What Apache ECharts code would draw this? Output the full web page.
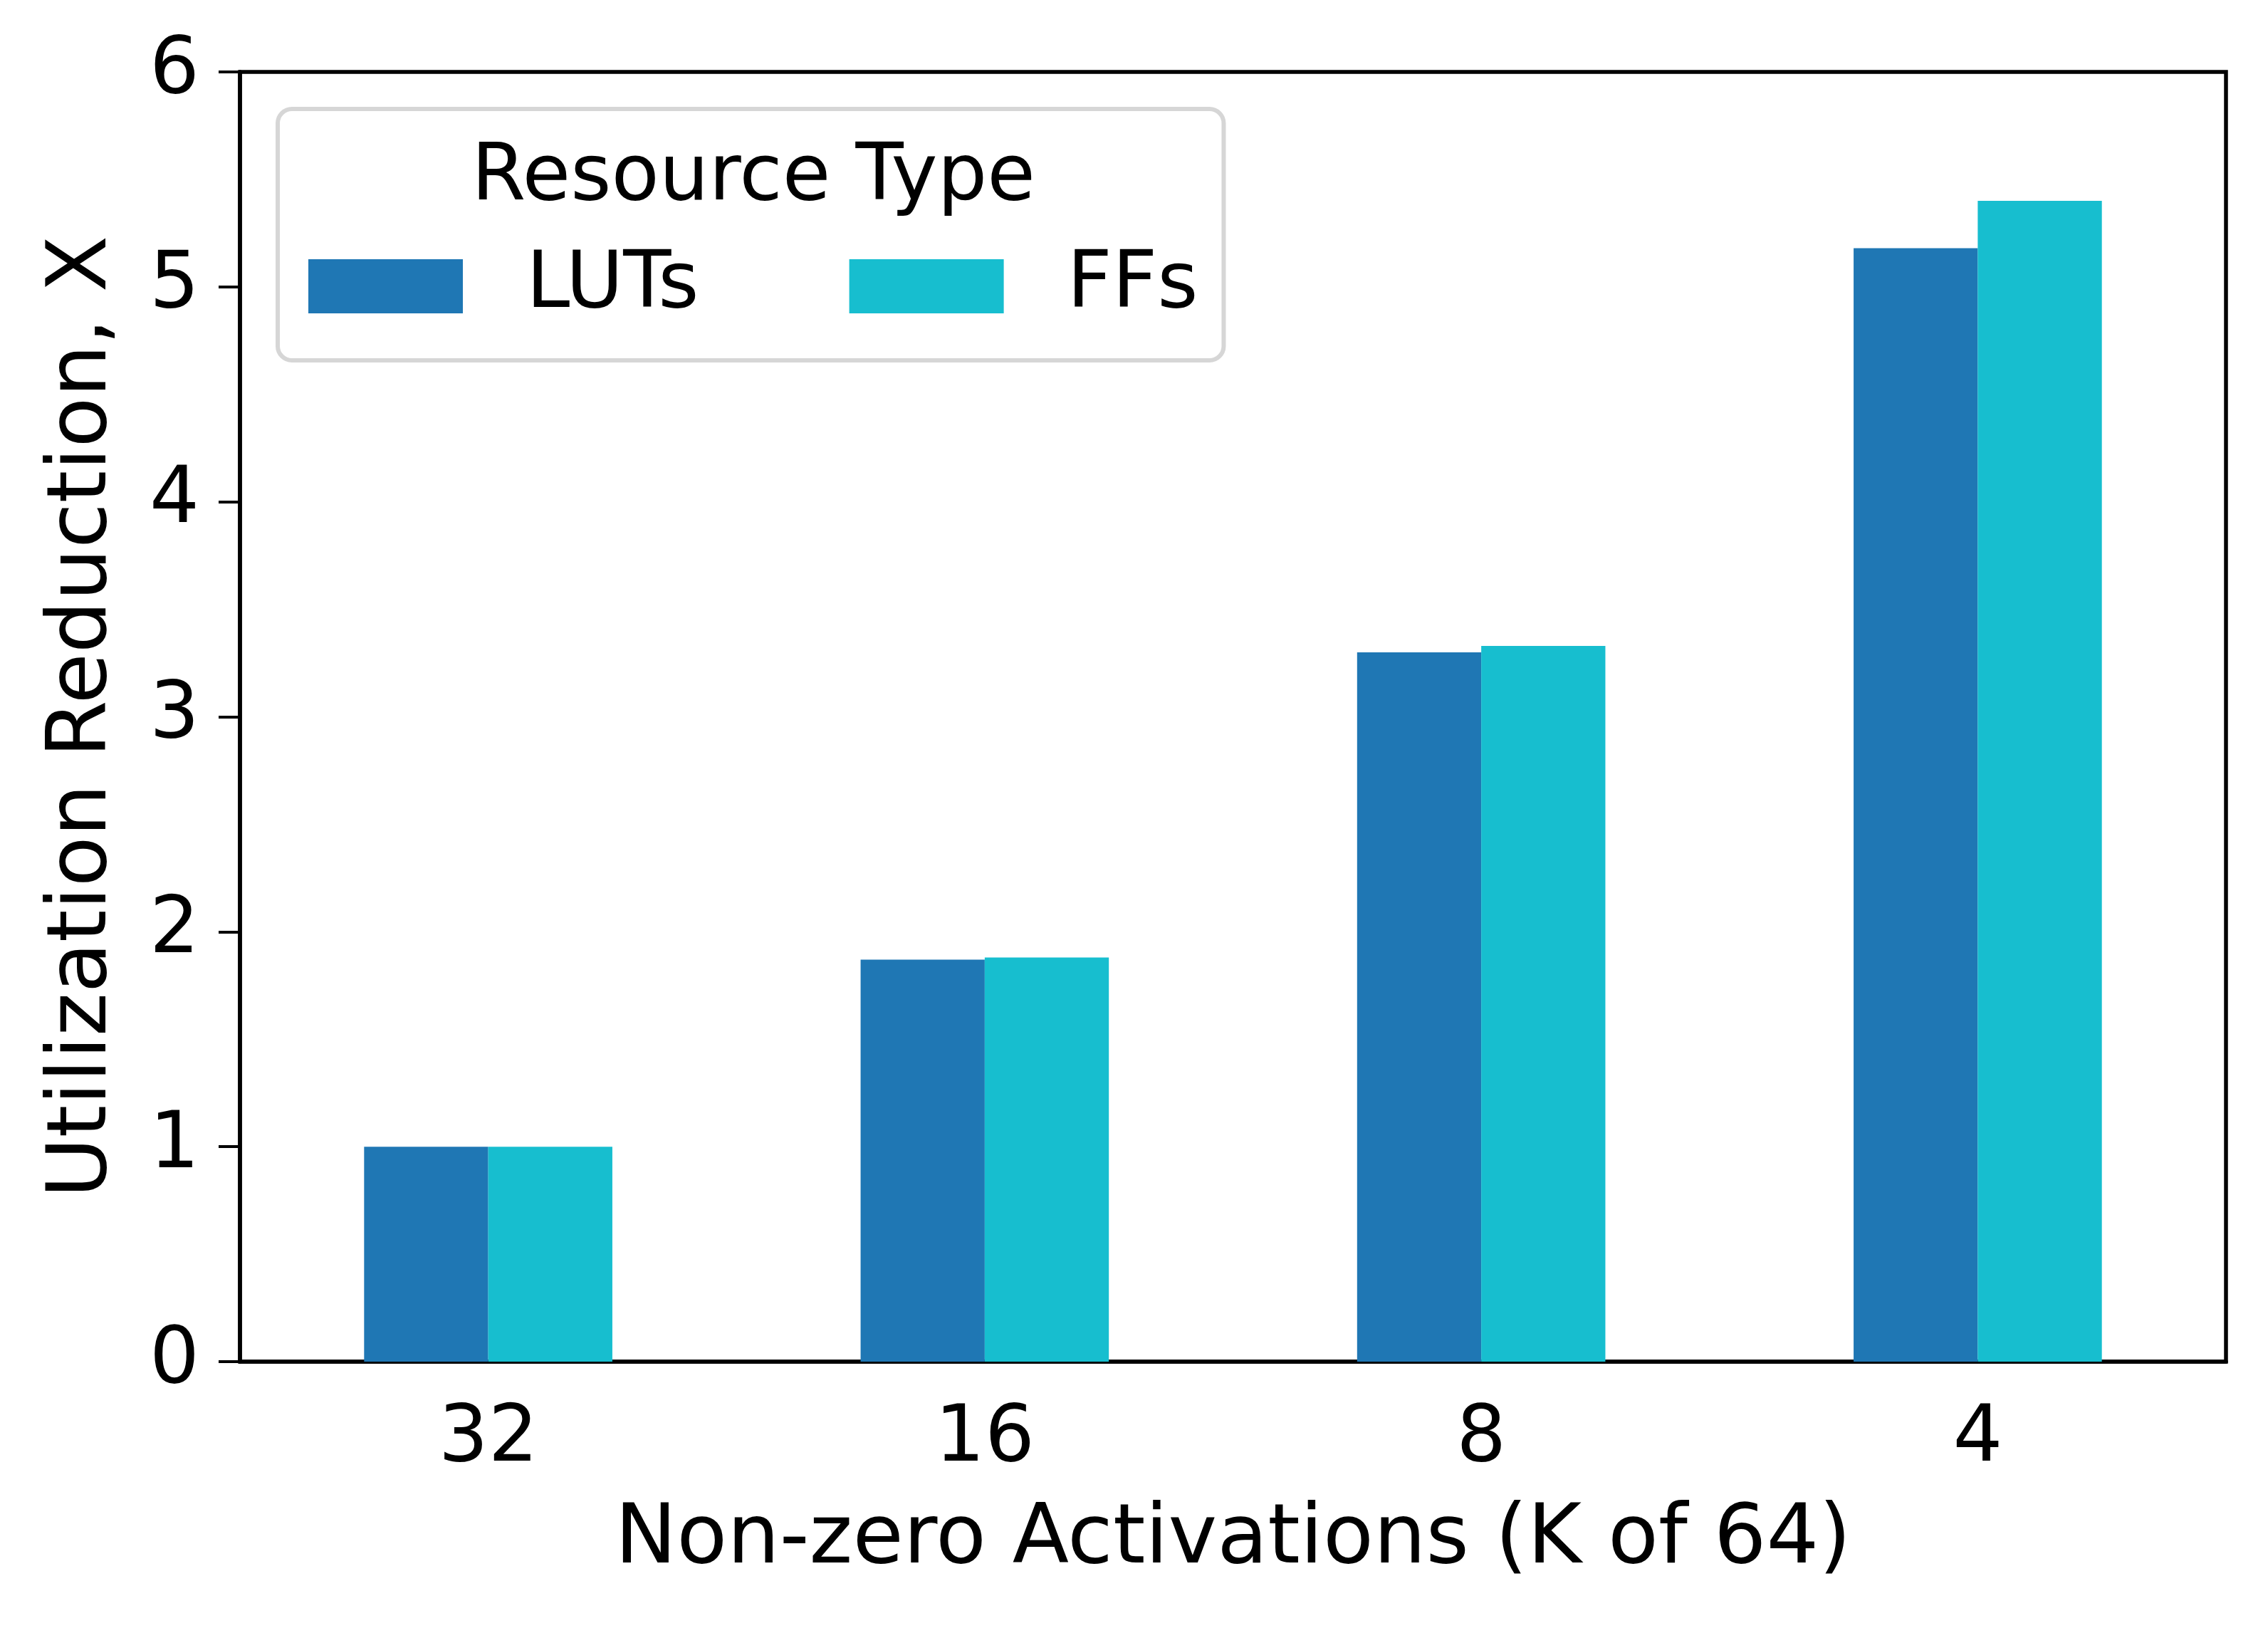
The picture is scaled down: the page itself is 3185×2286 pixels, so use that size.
<!DOCTYPE html>
<html>
<head>
<meta charset="utf-8">
<title>Utilization Reduction</title>
<script src="https://cdn.jsdelivr.net/npm/echarts@6/dist/echarts.min.js"></script>
<style>
    html, body { margin: 0; padding: 0; background: #fff; }
    #main { width: 3185px; height: 2286px; }
</style>
</head>
<body>
<div id="main"></div>
<script>
// 数据
var categories = ['32', '16', '8', '4'];
var lutValues = [1.0, 1.87, 3.30, 5.18];
var ffValues = [1.0, 1.88, 3.33, 5.40];
var yTicks = [0, 1, 2, 3, 4, 5, 6];

var font = 'DejaVu Sans';
var chart = echarts.init(document.getElementById('main'));

var option = {
    backgroundColor: '#ffffff',
    animation: false,
    grid: {
        left: 337,
        right: 59,
        top: 101,
        bottom: 374,
        show: true,
        borderColor: '#000',
        borderWidth: 5.5
    },
    legend: {
        data: ['LUTs', 'FFs'],
        left: 390,
        top: 153,
        orient: 'horizontal',
        icon: 'rect',
        itemWidth: 217,
        itemHeight: 76,
        itemGap: 211,
        padding: [194, 36, 49, 43],
        borderColor: '#d6d6d6',
        borderWidth: 6,
        borderRadius: 20,
        backgroundColor: 'rgba(255,255,255,0.8)',
        textStyle: {
            fontFamily: font,
            fontSize: 110,
            color: '#000',
            padding: [0, 0, 0, 84]
        }
    },
    // 图例标题
    graphic: [{
        type: 'text',
        z: 100,
        x: 1058,
        y: 251,
        style: {
            text: 'Resource Type',
            fontFamily: font,
            fontSize: 110,
            fill: '#000',
            align: 'center',
            verticalAlign: 'middle'
        }
    }],
    xAxis: {
        type: 'category',
        data: categories,
        name: 'Non-zero Activations (K of 64)',
        nameLocation: 'middle',
        nameGap: 194,
        nameTextStyle: { fontFamily: font, fontSize: 116, color: '#000' },
        axisLine: { lineStyle: { color: '#000', width: 5.5 } },
        axisTick: { alignWithLabel: true, length: 30, lineStyle: { color: '#000', width: 4 } },
        axisLabel: { fontFamily: font, fontSize: 110, color: '#000', margin: 55 },
        splitLine: { show: false }
    },
    yAxis: {
        type: 'value',
        min: 0,
        max: 6,
        interval: 1,
        name: 'Utilization Reduction, X',
        nameLocation: 'middle',
        nameGap: 161,
        nameTextStyle: { fontFamily: font, fontSize: 116, color: '#000' },
        axisLine: { show: true, lineStyle: { color: '#000', width: 5.5 } },
        axisTick: { show: true, length: 30, lineStyle: { color: '#000', width: 4 } },
        axisLabel: {
            fontFamily: font, fontSize: 110, color: '#000', margin: 57,
            formatter: function (v) { return yTicks.indexOf(v) >= 0 ? String(v) : ''; }
        },
        splitLine: { show: false }
    },
    series: [
        {
            name: 'LUTs',
            type: 'bar',
            data: lutValues,
            barGap: '0%',
            barCategoryGap: '50%',
            itemStyle: { color: '#1f77b4' }
        },
        {
            name: 'FFs',
            type: 'bar',
            data: ffValues,
            barGap: '0%',
            barCategoryGap: '50%',
            itemStyle: { color: '#17becf' }
        }
    ]
};

chart.setOption(option);
</script>
</body>
</html>
